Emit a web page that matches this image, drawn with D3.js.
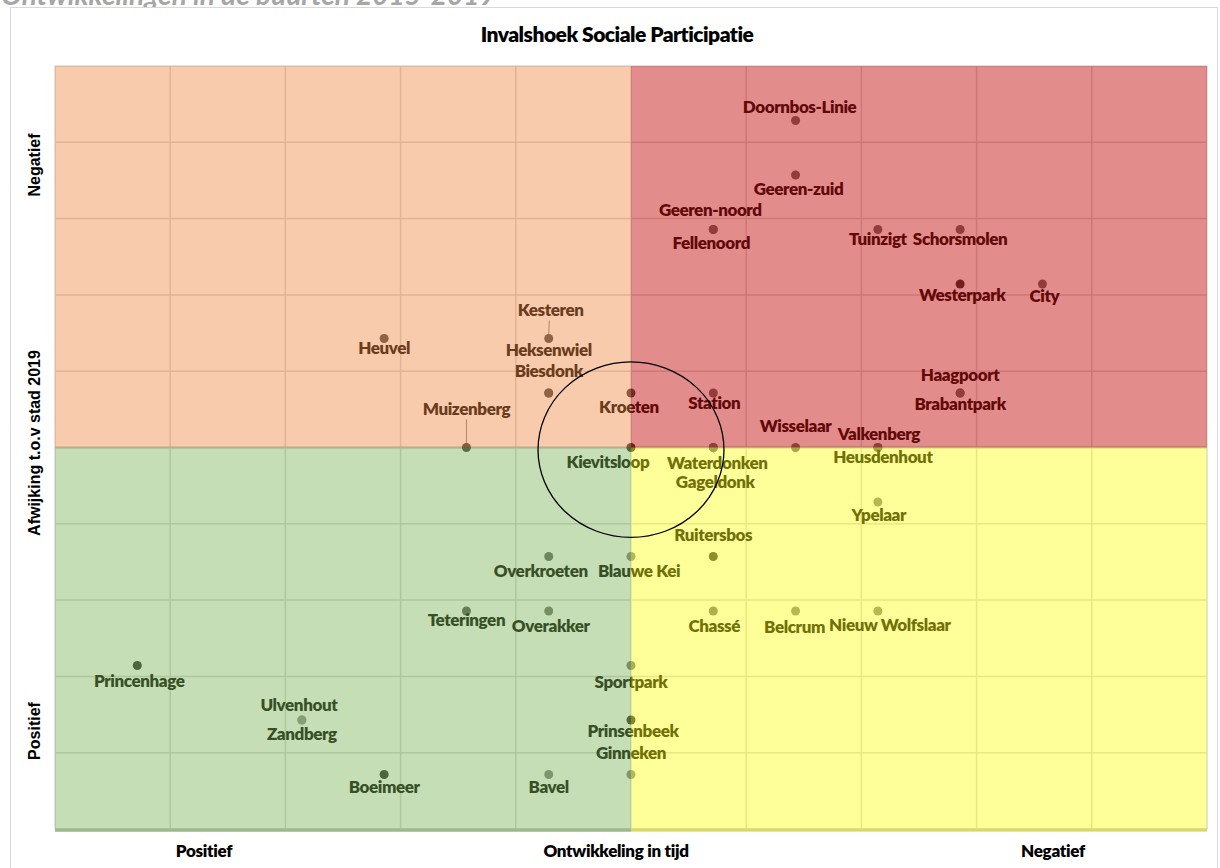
<!DOCTYPE html>
<html>
<head>
<meta charset="utf-8">
<script src="https://cdn.jsdelivr.net/npm/d3@7"></script>
<style>
  body { margin: 0; background: #fff; }
  svg { display: block; }
</style>
</head>
<body>
<svg width="1220" height="868"></svg>
<script>
// buurten: ontwikkeling in tijd (x) en afwijking t.o.v. stad 2019 (y)
var names = ['Doornbos-Linie', 'Geeren-zuid', 'Geeren-noord', 'Fellenoord', 'Tuinzigt', 'Schorsmolen',
    'Westerpark', 'City', 'Haagpoort', 'Brabantpark', 'Station', 'Kroeten', 'Kesteren', 'Heuvel',
    'Heksenwiel', 'Biesdonk', 'Muizenberg', 'Kievitsloop', 'Waterdonken', 'Gageldonk', 'Wisselaar',
    'Valkenberg', 'Heusdenhout', 'Ypelaar', 'Ruitersbos', 'Overkroeten', 'Blauwe Kei', 'Teteringen',
    'Overakker', 'Chassé', 'Belcrum', 'Nieuw Wolfslaar', 'Princenhage', 'Sportpark', 'Ulvenhout',
    'Zandberg', 'Prinsenbeek', 'Ginneken', 'Boeimeer', 'Bavel'];
var ontwikkeling = [2, 2, 1, 1, 3, 4, 4, 5, 4, 4, 1, 0, -1, -3, -1, -1, -2, 0, 1, 1, 2, 3, 3, 3, 1,
    -1, 0, -2, -1, 1, 2, 3, -6, 0, -4, -4, 0, 0, -3, -1];
var afwijking = [6, 5, 4, 4, 4, 4, 3, 3, 1, 1, 1, 1, 2, 2, 1, 1, 0, 0, 0, 0, 0, 0, 0, -1, -2,
    -2, -2, -3, -3, -3, -3, -3, -4, -4, -5, -5, -5, -6, -6, -6];
// intensiteit van de stip (0 = licht, 1 = donker)
var intensiteit = [0.5, 0.5, 0.5, 0.5, 0.5, 0.5, 0.9, 0.5, 0.5, 0.5, 0.5, 0.8, 0.7, 0.7, 0.7, 0.7,
    0.8, 0.9, 0.5, 0.5, 0.5, 0.5, 0.5, 0.3, 0.8, 0.5, 0.3, 0.6, 0.4, 0.4, 0.3, 0.3, 0.9, 0.4, 0.2,
    0.2, 0.9, 0.3, 0.9, 0.3];

var xLabels = ['Positief', 'Ontwikkeling in tijd', 'Negatief'];
var yLabels = ['Positief', 'Afwijking t.o.v stad 2019', 'Negatief'];
var title = 'Invalshoek Sociale Participatie';
var pageTitle = 'Ontwikkelingen in de buurten 2015-2019';

// label plaatsing t.o.v. de stip: [dx, dy, leader]
var labelOffset = {
    'Doornbos-Linie': [4, -13], 'Geeren-zuid': [3, 14], 'Geeren-noord': [-3, -19], 'Fellenoord': [-2, 14],
    'Tuinzigt': [0, 10], 'Schorsmolen': [0, 10], 'Westerpark': [2, 11], 'City': [2, 12],
    'Haagpoort': [0, -18], 'Brabantpark': [0, 11], 'Station': [1, 10], 'Kroeten': [-2, 14],
    'Kesteren': [2, -28, true], 'Heuvel': [0, 10], 'Heksenwiel': [0, -43], 'Biesdonk': [0, -22],
    'Muizenberg': [0, -38, true], 'Kievitsloop': [-23, 15], 'Waterdonken': [4, 16, true], 'Gageldonk': [2, 35],
    'Wisselaar': [0, -21], 'Valkenberg': [1, -13], 'Heusdenhout': [5, 10], 'Ypelaar': [1, 13],
    'Ruitersbos': [0, -21], 'Overkroeten': [-8, 15], 'Blauwe Kei': [8, 15], 'Teteringen': [0, 9],
    'Overakker': [2, 15], 'Chassé': [1, 15], 'Belcrum': [-1, 16], 'Nieuw Wolfslaar': [12, 14],
    'Princenhage': [2, 16], 'Sportpark': [0, 17], 'Ulvenhout': [-3, -15], 'Zandberg': [0, 14],
    'Prinsenbeek': [2, 11], 'Ginneken': [0, -21], 'Boeimeer': [0, 13], 'Bavel': [0, 13]
};

var svg = d3.select('svg');
var labelFont = 'Lato, "Open Sans", sans-serif';

var x = d3.scaleLinear().domain([-7, 7]).range([55, 1207]);
var y = d3.scaleLinear().domain([-7, 7]).range([829, 66]);
var ticks = d3.range(11).map(function (i) { return -7 + i * 1.4; });
var shade = d3.scaleLinear().domain([0, 1]).range(['#b0b0b0', '#2a2a2a']);

var points = names.map(function (n, i) {
    return { name: n, x: ontwikkeling[i], y: afwijking[i], v: intensiteit[i] };
});

// kop boven de grafiek (half afgesneden)
svg.append('text')
    .attr('x', 1).attr('y', 5)
    .style('font-family', labelFont).style('font-weight', 'bold').style('font-style', 'italic')
    .style('font-size', '28px').style('fill', '#a6a6a6')
    .text(pageTitle);

svg.append('rect')
    .attr('x', 10.5).attr('y', 7.5).attr('width', 1207).attr('height', 880)
    .attr('fill', '#fff').attr('stroke', '#d9d9d9');

svg.append('text')
    .attr('x', 617).attr('y', 42)
    .attr('text-anchor', 'middle')
    .style('font-family', labelFont).style('font-weight', 800).style('font-size', '21px')
    .style('letter-spacing', '-0.5px')
    .text(title);

// raster
var grid = svg.append('g');
grid.selectAll('.vx').data(ticks).enter().append('line')
    .attr('x1', function (d) { return x(d); }).attr('x2', function (d) { return x(d); })
    .attr('y1', y(7)).attr('y2', y(-7))
    .attr('stroke', '#d9d9d9').attr('stroke-width', 1.5);
grid.selectAll('.hy').data(ticks).enter().append('line')
    .attr('y1', function (d) { return y(d); }).attr('y2', function (d) { return y(d); })
    .attr('x1', x(-7)).attr('x2', x(7))
    .attr('stroke', '#d9d9d9').attr('stroke-width', 1.5);
grid.append('line')
    .attr('x1', x(-7)).attr('x2', x(7)).attr('y1', y(0)).attr('y2', y(0))
    .attr('stroke', '#bfbfbf').attr('stroke-width', 2);
grid.append('line')
    .attr('x1', x(-7)).attr('x2', x(7)).attr('y1', y(-7) + 1).attr('y2', y(-7) + 1)
    .attr('stroke', '#bfbfbf').attr('stroke-width', 3);

// hulplijnen van label naar stip
svg.append('g').selectAll('line')
    .data(points.filter(function (d) { return labelOffset[d.name][2]; }))
    .enter().append('line')
    .attr('x1', function (d) { return x(d.x); })
    .attr('y1', function (d) { return y(d.y) + (labelOffset[d.name][1] < 0 ? -4 : 4); })
    .attr('x2', function (d) { return x(d.x) + labelOffset[d.name][0] * 0.3; })
    .attr('y2', function (d) {
        var dy = labelOffset[d.name][1];
        return y(d.y) + (dy < 0 ? dy + 10 : dy - 10);
    })
    .attr('stroke', '#8c8c8c').attr('stroke-width', 1);

svg.append('g').selectAll('circle')
    .data(points)
    .enter().append('circle')
    .attr('cx', function (d) { return x(d.x); })
    .attr('cy', function (d) { return y(d.y); })
    .attr('r', 4.5)
    .attr('fill', function (d) { return shade(d.v); });

svg.append('g').selectAll('text')
    .data(points)
    .enter().append('text')
    .attr('x', function (d) { return x(d.x) + labelOffset[d.name][0]; })
    .attr('y', function (d) { return y(d.y) + labelOffset[d.name][1]; })
    .attr('dy', '0.35em')
    .attr('text-anchor', 'middle')
    .style('font-family', labelFont).style('font-weight', 800).style('font-size', '17px')
    .style('letter-spacing', '-0.4px')
    .style('fill', '#111')
    .text(function (d) { return d.name; });

// gekleurde kwadranten er overheen
var quadrants = [
    { x0: -7, x1: 0, y0: 0, y1: 7, color: '#ED7D31', op: 0.4 },
    { x0: 0, x1: 7, y0: 0, y1: 7, color: '#C00000', op: 0.45 },
    { x0: -7, x1: 0, y0: -7, y1: 0, color: '#70AD47', op: 0.4 },
    { x0: 0, x1: 7, y0: -7, y1: 0, color: '#FFFF00', op: 0.4 }
];
svg.append('g').selectAll('rect')
    .data(quadrants)
    .enter().append('rect')
    .attr('x', function (d) { return x(d.x0); })
    .attr('y', function (d) { return y(d.y1); })
    .attr('width', function (d) { return x(d.x1) - x(d.x0); })
    .attr('height', function (d) { return y(d.y0) - y(d.y1) + (d.y0 < 0 ? 3 : 0); })
    .attr('fill', function (d) { return d.color; })
    .attr('fill-opacity', function (d) { return d.op; });

// cirkel rond het midden
svg.append('ellipse')
    .attr('cx', x(0)).attr('cy', y(-0.04))
    .attr('rx', x(1.13) - x(0)).attr('ry', y(0) - y(1.61))
    .attr('fill', 'none').attr('stroke', '#000').attr('stroke-width', 1.3);

// as-labels
svg.selectAll('.xl').data(xLabels).enter().append('text')
    .attr('x', function (d, i) { return [204, 616, 1053][i]; })
    .attr('y', 857)
    .attr('text-anchor', 'middle')
    .style('font-family', labelFont).style('font-weight', 800).style('font-size', '17px')
    .style('letter-spacing', '-0.3px')
    .text(function (d) { return d; });

svg.selectAll('.yl').data(yLabels).enter().append('text')
    .attr('transform', function (d, i) {
        return 'translate(40,' + [731, 443, 165][i] + ') rotate(-90)';
    })
    .attr('text-anchor', 'middle')
    .style('font-family', '"Liberation Sans", Arial, sans-serif').style('font-weight', 'bold')
    .style('font-size', '16px')
    .text(function (d) { return d; });
</script>
</body>
</html>
